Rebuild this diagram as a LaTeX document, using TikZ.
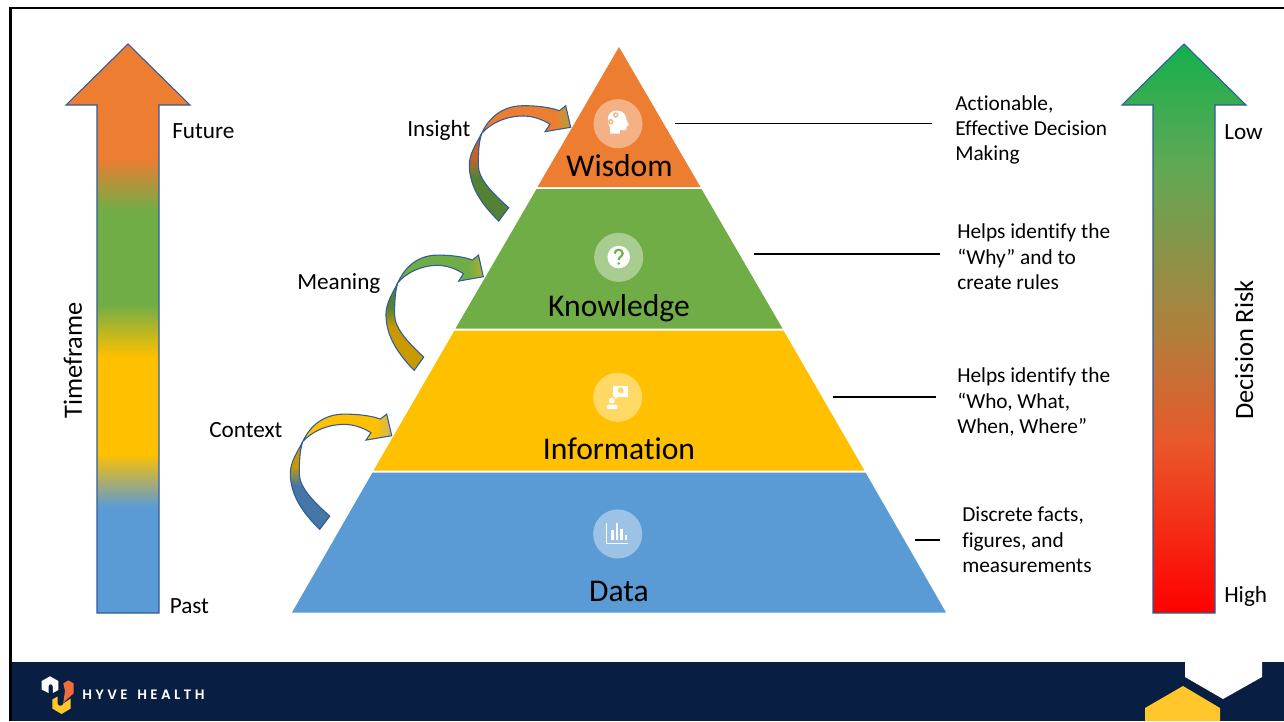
\documentclass[tikz,border=0pt]{standalone}
\usepackage{fontspec}
\setmainfont{Carlito}[Ligatures=CommonOff]
\newfontfamily\hyvefont[LetterSpace=24.5,WordSpace=1.5]{Poppins SemiBold}
\usetikzlibrary{calc,positioning}
\definecolor{wisdomfill}{HTML}{ED7D31}
\definecolor{knowledgefill}{HTML}{70AD47}
\definecolor{informationfill}{HTML}{FFC000}
\definecolor{datafill}{HTML}{5B9BD5}
\definecolor{arrowline}{HTML}{2F5C9A}
\definecolor{footerfill}{HTML}{081E42}
\definecolor{hyveyellow}{HTML}{FFC72C}
\definecolor{hyveorange}{HTML}{F26B3A}
\definecolor{wisdomdark}{HTML}{C4622B}
\definecolor{knowledgedark}{HTML}{548235}
\definecolor{informationdark}{HTML}{C99A00}
\definecolor{datadark}{HTML}{4477A8}
\definecolor{insighttip}{HTML}{B3A03A}
\definecolor{meaningtip}{HTML}{B0B030}
\definecolor{contexttip}{HTML}{C8B860}
\definecolor{riskgreen}{HTML}{14B04D}
\definecolor{riskmidgreen}{HTML}{62A854}
\definecolor{riskmid}{HTML}{AE803C}
\definecolor{riskorange}{HTML}{E9582A}
\definecolor{riskred}{HTML}{FF0000}
\pgfdeclareverticalshading{timeframe}{100bp}{color(0bp)=(datafill); color(34.3bp)=(datafill); color(39bp)=(informationfill); color(47.5bp)=(informationfill); color(52.2bp)=(knowledgefill); color(60.3bp)=(knowledgefill); color(65bp)=(wisdomfill); color(100bp)=(wisdomfill)}
\pgfdeclareverticalshading{decisionrisk}{100bp}{color(0bp)=(riskred); color(25bp)=(riskred); color(40bp)=(riskorange); color(50bp)=(riskmid); color(64bp)=(riskmidgreen); color(75bp)=(riskgreen); color(100bp)=(riskgreen)}
\newcommand{\declarecurved}[5]{%
	\pgfdeclareverticalshading{#1low}{100bp}{color(0bp)=(#4); color(50bp)=(#4); color(61bp)=(#3); color(100bp)=(#3)}%
	\pgfdeclarehorizontalshading{#1up}{100bp}{color(0bp)=(#2); color(66bp)=(#2); color(75bp)=(#5); color(100bp)=(#5)}%
}
\declarecurved{insight}{wisdomfill}{wisdomdark}{knowledgedark}{insighttip}
\declarecurved{meaning}{knowledgefill}{knowledgedark}{informationdark}{meaningtip}
\declarecurved{context}{informationfill}{informationdark}{datadark}{contexttip}
\newcommand{\curvedarrow}[4]{%
	\begin{scope}[shift={(#2,#3)}, xscale=#4]
		\shade[shading=#1low, draw=arrowline, line width=.8pt] (-89,6) .. controls (-94,16) and (-101.4,26) .. (-101.4,37.7) .. controls (-101.4,60) and (-88,78) .. (-72,93.7) -- (-62,80.4) .. controls (-78,66) and (-92.4,52) .. (-92.4,37.7) .. controls (-92.4,26) and (-92,15) .. (-89,6) -- cycle;
		\shade[shading=#1up, draw=arrowline, line width=.8pt] (-89,6) .. controls (-84,-5) and (-72,-21.6) .. (-47.4,-21.6) .. controls (-34,-21.6) and (-20,-20) .. (-11.4,-16.6) -- (-5,-21.6) -- (0,0) -- (-25.7,4.4) -- (-20.7,-3) .. controls (-30,-9) and (-40,-11.3) .. (-47.4,-11.3) .. controls (-65,-11.3) and (-80,-4) .. (-89,6) -- cycle;
	\end{scope}%
}
\tikzset{pyramidlabel/.style={inner sep=0, font=\fontsize{23.7}{26}\selectfont}}
\tikzset{sidelabel/.style={inner sep=0, anchor=west, font=\fontsize{17.4}{20}\selectfont}}
\tikzset{notelabel/.style={inner sep=0, anchor=west, align=left, font=\fontsize{16}{19}\selectfont}}
\tikzset{axislabel/.style={inner sep=0, rotate=90, font=\fontsize{19.8}{22}\selectfont}}
\tikzset{badge/.style={circle, fill=white, fill opacity=.4, inner sep=0, minimum size=36.8pt}}
\tikzset{leader/.style={draw=black, line width=.9pt}}
\begin{document}
\begin{tikzpicture}[x=.75pt, y=-.75pt]
	\useasboundingbox (0,0) rectangle (1284,721);
	\fill[footerfill] (10,662) rectangle (1284,721);
	\draw[black, line width=1.8pt] (10.5,721) -- (10.5,8) -- (1284,8);
	\fill[white] (1185,661) -- (1262,661) -- (1262,677) -- (1223,699) -- (1185,677) -- cycle;
	\fill[hyveyellow] (1183,686) -- (1220,708) -- (1220,721) -- (1145,721) -- (1145,708) -- cycle;
	\fill[white] (41.7,681) -- (50,676.3) -- (58.3,681) -- (58.3,690) -- (52.8,693) -- (52.8,686.5) .. controls (52.8,683.5) and (48.5,683.5) .. (48.5,686.5) -- (48.5,693) -- (41.7,689.5) -- cycle;
	\fill[hyveorange] (63.3,683.3) -- (68.3,680.4) -- (73.6,683.3) -- (73.6,693.3) -- (63.3,702.7) -- (65,691) -- cycle;
	\fill[hyveyellow] (52.3,699.5) -- (57.5,696.5) -- (57.5,703.5) .. controls (57.5,706.5) and (63.3,706.5) .. (63.3,703.5) -- (70.7,698.5) -- (70.7,708.5) -- (61.5,714) -- (52.3,708.5) -- cycle;
	\path (82,695) node[inner sep=0, anchor=west, white, font=\hyvefont\fontsize{10.2}{12}\selectfont] (Hyve) {HYVE HEALTH};

	\shade[shading=timeframe, draw=arrowline, line width=.8pt] (128,44) -- (190,105) -- (159,105) -- (159,613) -- (97,613) -- (97,105) -- (66,105) -- cycle;
	\shade[shading=decisionrisk, draw=arrowline, line width=.8pt] (1184,44) -- (1246,105) -- (1215,105) -- (1215,613) -- (1153,613) -- (1153,105) -- (1122,105) -- cycle;

	\fill[wisdomfill] (619,47) -- (700.5,187) -- (537.5,187) -- cycle;
	\fill[knowledgefill] (536.5,189) -- (701.5,189) -- (782.5,328.5) -- (455.5,328.5) -- cycle;
	\fill[informationfill] (454.5,330.5) -- (783.5,330.5) -- (864.5,470.5) -- (373.5,470.5) -- cycle;
	\fill[datafill] (372.5,472.5) -- (865.5,472.5) -- (946,612.5) -- (292,612.5) -- cycle;

	\path (618,123.7) node[badge] (WisdomBadge) {};
	\path (618.7,257.3) node[badge] (KnowledgeBadge) {};
	\path (617.7,397.3) node[badge] (InformationBadge) {};
	\path (617.7,534) node[badge] (DataBadge) {};

	\fill[white] (610,133.5) -- (610.3,127.5) .. controls (606,122) and (606.5,110.5) .. (617,110.5) .. controls (623,110.5) and (626.5,115) .. (626.5,120) -- (629,125) -- (626.8,126) -- (626.5,129) .. controls (626,130.5) and (624,130.5) .. (620,130) -- (619.7,133.5) -- cycle;
	\fill[wisdomfill!55!white] (615.7,115) circle[radius=2.8] (610.7,121.7) circle[radius=2.8];
	\fill[white] (615.7,115) circle[radius=1.1] (610.7,121.7) circle[radius=1.1];

	\fill[white] (618.7,257) circle[radius=11.3];
	\draw[knowledgefill, line width=1.6pt] (614.7,253.5) .. controls (614.7,248.5) and (622.7,248.5) .. (622.7,253.5) .. controls (622.7,256.5) and (618.7,256.5) .. (618.7,260);
	\fill[knowledgefill] (618.7,263.5) circle[radius=1.4];

	\fill[white] (613.3,385.7) rectangle (628.3,396.7);
	\fill[white] (614.5,396) -- (614.8,399.5) -- (619,396) -- cycle;
	\fill[informationfill!60!white] (620.7,390.2) circle[radius=3];
	\fill[white] (611.7,400.7) circle[radius=2.8];
	\fill[white, rounded corners=1.5pt] (606.7,409) -- (606.7,404.7) -- (617.7,404.7) -- (617.7,409) -- cycle;

	\draw[white, line width=.9pt] (606.7,523.3) -- (606.7,543.3) -- (628.3,543.3);
	\fill[white] (611,530) rectangle (613.7,540);
	\fill[white] (615.7,523.3) rectangle (618.3,540);
	\fill[white] (620,529.3) rectangle (622.7,540);
	\fill[white] (624.7,535) rectangle (627.3,540);

	\path (619.5,165.5) node[pyramidlabel] (Wisdom) {Wisdom};
	\path (619,308) node[pyramidlabel] (Knowledge) {Knowledge};
	\path (619,449) node[pyramidlabel] (Information) {Information};
	\path (619,591.5) node[pyramidlabel] (Data) {Data};

	\curvedarrow{insight}{570.7}{127.3}{1}
	\curvedarrow{meaning}{483.3}{276.7}{.96}
	\curvedarrow{context}{391.7}{435.7}{1}

	\path (407,130) node[sidelabel] (Insight) {Insight};
	\path (297,283.5) node[sidelabel] (Meaning) {Meaning};
	\path (209,430.5) node[sidelabel] (Context) {Context};
	\path (172,131.5) node[sidelabel] (Future) {Future};
	\path (169.5,606) node[sidelabel] (Past) {Past};
	\path (1224,132) node[sidelabel] (Low) {Low};
	\path (1224,596) node[sidelabel] (High) {High};
	\path (73,360.5) node[axislabel] (Timeframe) {Timeframe};
	\path (1244,350) node[axislabel] (Risk) {Decision Risk};

	\path (955,130) node[notelabel] (WisdomNote) {Actionable,\\Effective Decision\\Making};
	\path (957,257) node[notelabel] (KnowledgeNote) {Helps identify the\\“Why” and to\\create rules};
	\path (957,402) node[notelabel] (InformationNote) {Helps identify the\\“Who, What,\\When, Where”};
	\path (962,540) node[notelabel] (DataNote) {Discrete facts,\\figures, and\\measurements};

	\coordinate (WisdomFrom) at (675,123.5);
	\coordinate (WisdomTo) at (932,123.5);
	\coordinate (KnowledgeFrom) at (754,254);
	\coordinate (KnowledgeTo) at (940,254);
	\coordinate (InformationFrom) at (833,397);
	\coordinate (InformationTo) at (936,397);
	\coordinate (DataFrom) at (915,540);
	\coordinate (DataTo) at (940,540);
	\path[leader] (WisdomFrom) -- (WisdomTo);
	\path[leader] (KnowledgeFrom) -- (KnowledgeTo);
	\path[leader] (InformationFrom) -- (InformationTo);
	\path[leader] (DataFrom) -- (DataTo);
\end{tikzpicture}
\end{document}
